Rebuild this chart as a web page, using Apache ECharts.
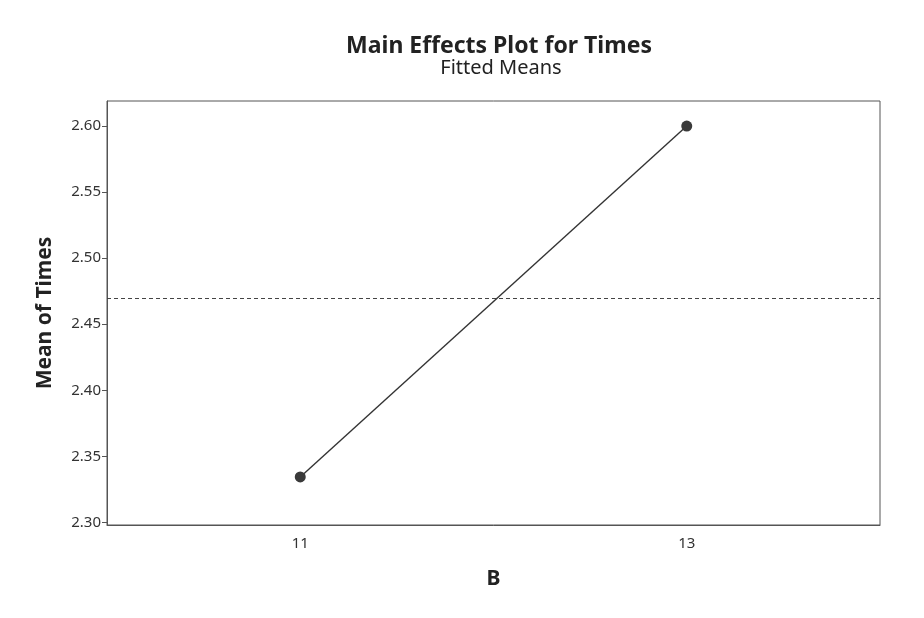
<!DOCTYPE html>
<html>
<head>
<meta charset="utf-8">
<title>Main Effects Plot for Times</title>
<script src="https://cdn.jsdelivr.net/npm/echarts@6/dist/echarts.min.js"></script>
<style>
  html, body { margin: 0; padding: 0; background: #fff; }
  #chart { width: 924px; height: 618px; }
</style>
</head>
<body>
<div id="chart"></div>
<script>
// Factor B levels and the fitted mean of Times at each level
const levels = ['11', '13'];
const fittedMeans = [2.3344, 2.6000];
// Overall mean of Times (reference line)
const overallMean = [2.4672];
// Y-axis tick values
const yTicks = [2.30, 2.35, 2.40, 2.45, 2.50, 2.55, 2.60];

const FONT = '"Noto Sans", "Open Sans", sans-serif';
const INK = '#333';

const chart = echarts.init(document.getElementById('chart'), null, { renderer: 'canvas' });

chart.setOption({
  backgroundColor: '#ffffff',
  animation: false,
  title: [
    {
      text: 'Main Effects Plot for Times',
      left: 494, top: 30, textAlign: 'center',
      textStyle: { fontFamily: FONT, fontSize: 23, fontWeight: 'bold', color: '#222' }
    },
    {
      text: 'Fitted Means',
      left: 496, top: 53, textAlign: 'center',
      textStyle: { fontFamily: FONT, fontSize: 20, fontWeight: 'normal', color: '#222' }
    }
  ],
  grid: {
    left: 107, right: 44, top: 101, bottom: 93,
    show: true, borderColor: '#555', borderWidth: 1, backgroundColor: 'transparent'
  },
  xAxis: {
    type: 'category',
    data: levels,
    boundaryGap: true,
    axisLine: { lineStyle: { color: '#555', width: 1 } },
    axisTick: { alignWithLabel: true, length: 5, lineStyle: { color: '#555' } },
    axisLabel: { fontFamily: FONT, fontSize: 15, color: INK, margin: 11 },
    splitLine: { show: false },
    name: 'B',
    nameLocation: 'middle',
    nameGap: 44,
    nameTextStyle: { fontFamily: FONT, fontSize: 21, fontWeight: 'bold', color: '#222' }
  },
  yAxis: {
    type: 'value',
    min: 2.298,
    max: 2.619,
    axisLine: { show: true, lineStyle: { color: '#555', width: 1 } },
    axisTick: { show: true, length: 5, customValues: yTicks, lineStyle: { color: '#555' } },
    axisLabel: {
      fontFamily: FONT, fontSize: 15, color: INK, margin: 6,
      customValues: yTicks,
      formatter: v => v.toFixed(2)
    },
    splitLine: { show: false },
    name: 'Mean of Times',
    nameLocation: 'middle',
    nameGap: 51,
    nameTextStyle: { fontFamily: FONT, fontSize: 21, fontWeight: 'bold', color: '#222' }
  },
  series: [
    {
      type: 'line',
      data: fittedMeans,
      symbol: 'circle',
      symbolSize: 11,
      itemStyle: { color: '#3a3a3a' },
      lineStyle: { color: '#333', width: 1.4 },
      markLine: {
        silent: true,
        symbol: 'none',
        label: { show: false },
        lineStyle: { color: '#444', width: 1, type: [4, 3] },
        data: [{ yAxis: overallMean[0] }]
      }
    }
  ]
});
</script>
</body>
</html>
